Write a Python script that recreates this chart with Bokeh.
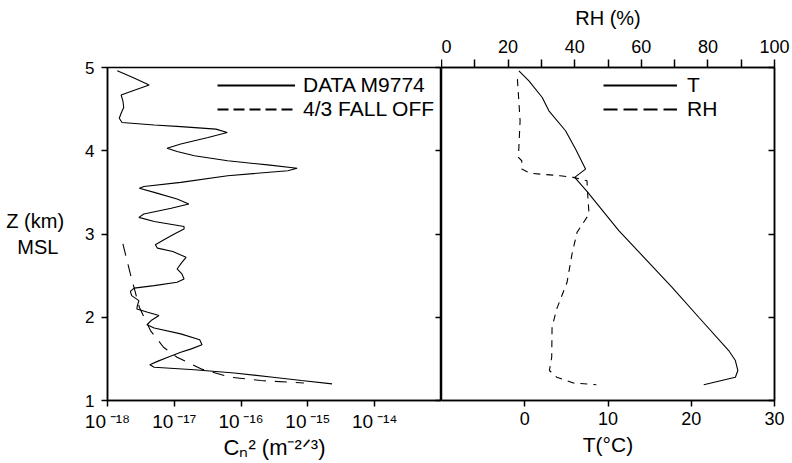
from bokeh.plotting import figure
from bokeh.models import (Range1d, LinearAxis, FixedTicker, CustomJSTickFormatter,
                          Legend, LegendItem)
from bokeh.layouts import row
from bokeh.embed import file_html
from bokeh.resources import INLINE

FONT = "Liberation Sans"
NAN = float("nan")

# ---------------- data ----------------
# Left panel: Cn^2 profile (m^-2/3) vs altitude (km MSL)
data_z = [4.96, 4.88, 4.79, 4.72, 4.67, 4.60, 4.52, 4.45, 4.39, 4.34, 4.31, 4.29, 4.26, 4.22,
          4.16, 4.08, 4.03, 3.99, 3.94, 3.88, 3.83, 3.79, 3.76, 3.70, 3.62, 3.57, 3.55, 3.50,
          3.42, 3.36, 3.31, 3.24, 3.20, 3.15, 3.09, 3.06, 3.00, 2.93, 2.87, 2.83, 2.79, 2.72,
          2.66, 2.58, 2.52, 2.46, 2.42, 2.38, 2.35, 2.31, 2.26, 2.20, 2.14, 2.10, 2.06, 2.02,
          1.96, 1.91, 1.87, 1.80, 1.73, 1.67, 1.62, 1.58, 1.52, 1.47, 1.43, 1.40, 1.37, 1.33,
          1.28, 1.24, 1.20]
data_cn2 = [1.4e-18, 2.4e-18, 4.2e-18, 2.4e-18, 1.6e-18, 1.7e-18, 1.75e-18, 1.6e-18, 1.5e-18,
            1.65e-18, 5.0e-18, 1.25e-17, 4.2e-17, 6.2e-17, 3.2e-17, 1.25e-17, 7.8e-18, 1.1e-17,
            2.0e-17, 6.3e-17, 2.5e-16, 6.9e-16, 5.0e-16, 6.3e-17, 1.25e-17, 3.5e-18, 3.0e-18,
            5.0e-18, 1.1e-17, 1.65e-17, 9.0e-18, 3.5e-18, 2.95e-18, 5.0e-18, 1.4e-17, 1.4e-17,
            1.0e-17, 7.0e-18, 5.2e-18, 5.6e-18, 9.5e-18, 1.5e-17, 1.3e-17, 1.1e-17, 1.3e-17,
            1.4e-17, 1.1e-17, 5.0e-18, 2.5e-18, 2.2e-18, 2.3e-18, 2.95e-18, 2.8e-18, 2.75e-18,
            4.0e-18, 5.9e-18, 4.5e-18, 3.9e-18, 5.0e-18, 1.25e-17, 2.4e-17, 2.6e-17, 1.8e-17,
            1.25e-17, 8.0e-18, 5.6e-18, 4.3e-18, 5.0e-18, 2.0e-17, 7.9e-17, 3.0e-16, 8.0e-16,
            2.3e-15]

falloff_z = [2.88, 2.52, 2.12, 1.84, 1.64, 1.52, 1.38, 1.28, 1.24, 1.21]
falloff_cn2 = [1.7e-18, 2.2e-18, 3.0e-18, 4.4e-18, 6.9e-18, 1.1e-17, 2.5e-17, 6.9e-17,
               1.95e-16, 8.7e-16]

# Right panel: temperature (deg C) and relative humidity (%) vs altitude
temp_z = [4.96, 4.84, 4.64, 4.48, 4.24, 4.02, 3.78, 3.68, 3.51, 3.04, 2.36, 2.00, 1.60,
          1.48, 1.36, 1.28, 1.19]
temp_c = [-0.7, 0.5, 2.1, 2.9, 4.9, 6.1, 7.3, 6.0, 7.5, 11.3, 17.7, 20.9, 24.5, 25.3, 25.6,
          25.3, 21.5]

rh_z = [4.86, 4.36, 3.92, 3.88, 3.78, 3.73, 3.70, 3.68, 3.64, 3.54, 3.24, 3.02, 2.76, 2.42,
        2.10, 1.88, 1.52, 1.36, 1.28, 1.21, 1.19]
rh_pct = [22.8, 23.6, 23.1, 24.1, 24.1, 26.6, 35.6, 39.6, 43.7, 43.8, 44.3, 40.7, 39.2, 37.7,
          34.6, 33.2, 33.1, 32.4, 34.6, 39.6, 46.5]

cn2_ticks = [1e-18, 1e-17, 1e-16, 1e-15, 1e-14]
z_ticks = [1, 2, 3, 4, 5]
t_ticks = [0, 10, 20, 30]
rh_ticks = [0, 10, 20, 30, 40, 50, 60, 70, 80, 90, 100]


def style_axis(ax, size="18px", standoff=5):
    ax.axis_line_color = "black"
    ax.axis_line_width = 1.5
    ax.major_tick_line_color = "black"
    ax.major_tick_line_width = 1.5
    ax.major_tick_out = 6
    ax.major_tick_in = 0
    ax.minor_tick_out = 0
    ax.minor_tick_in = 0
    ax.major_label_text_font = FONT
    ax.major_label_text_font_size = size
    ax.major_label_text_color = "black"
    ax.major_label_standoff = standoff
    ax.axis_label_text_font = FONT
    ax.axis_label_text_font_style = "normal"
    ax.axis_label_text_color = "black"
    ax.axis_label_text_font_size = "20px"


def inward_no_labels(ax):
    ax.axis_line_color = "black"
    ax.axis_line_width = 1.5
    ax.major_tick_line_color = "black"
    ax.major_tick_line_width = 1.5
    ax.major_tick_in = 6
    ax.major_tick_out = 0
    ax.minor_tick_in = 0
    ax.minor_tick_out = 0
    ax.major_label_standoff = 0
    ax.formatter = CustomJSTickFormatter(code="return '';")


def make_legend(items, loc, gw, standoff):
    return Legend(items=items, location=loc, glyph_width=gw, glyph_height=20, label_height=20,
                  label_standoff=standoff, spacing=-4, padding=0, margin=0,
                  border_line_color=None, background_fill_alpha=0, label_text_font=FONT,
                  label_text_font_size="21px", label_text_color="black")


# ---------------- left panel ----------------
p1 = figure(x_axis_type="log", x_range=Range1d(1e-18, 1e-13), y_range=Range1d(1, 5),
            frame_width=334, frame_height=333, min_border_left=107, min_border_right=0,
            min_border_top=67, min_border_bottom=60, output_backend="svg",
            toolbar_location=None)
p1.grid.visible = False
p1.outline_line_color = "black"
p1.outline_line_width = 1.5
p1.background_fill_color = "white"
p1.border_fill_color = "white"

xa = p1.xaxis[0]
style_axis(xa, "19px", 4)
xa.ticker = FixedTicker(ticks=cn2_ticks)
xa.formatter = CustomJSTickFormatter(code="""
const e = Math.round(Math.log10(tick));
const m = {"-": "\u207b", "0": "\u2070", "1": "\u00b9", "2": "\u00b2", "3": "\u00b3",
           "4": "\u2074", "5": "\u2075", "6": "\u2076", "7": "\u2077", "8": "\u2078", "9": "\u2079"};
let s = "";
for (const c of String(e)) { s += m[c]; }
return "10\u2009" + s;
""")
xa.axis_label = "C\u2099\u00b2 (m\u207b\u00b2\u141f\u00b3)"
xa.axis_label_text_font_size = "22px"
xa.axis_label_standoff = 0

ya = p1.yaxis[0]
style_axis(ya, "17px", 7)
ya.ticker = FixedTicker(ticks=z_ticks)
ya.axis_label = "Z (km)\nMSL\u00a0"
ya.axis_label_text_font_size = "20px"
if "axis_label_orientation" in ya.properties():
    ya.axis_label_orientation = "horizontal"
ya.axis_label_standoff = 18

ra = LinearAxis(ticker=FixedTicker(ticks=z_ticks))
inward_no_labels(ra)
p1.add_layout(ra, "right")

p1.line(data_cn2, data_z, line_color="black", line_width=1.1)
p1.line(falloff_cn2, falloff_z, line_color="black", line_width=1.1, line_dash="12 9")

# legend-only renderers (NaN data, never visible in the frame)
lr1 = p1.line(x=[NAN, NAN], y=[NAN, NAN], line_color="black", line_width=2.2)
lr2 = p1.line(x=[NAN, NAN], y=[NAN, NAN], line_color="black", line_width=2.2, line_dash="11 5")
p1.add_layout(make_legend([LegendItem(label="DATA M9774", renderers=[lr1]),
                           LegendItem(label="4/3 FALL OFF", renderers=[lr2])],
                          (110, 279), 78, 8))

# ---------------- right panel ----------------
p2 = figure(x_range=Range1d(-10, 30), y_range=Range1d(1, 5),
            frame_width=333, frame_height=333, min_border_left=0, min_border_right=17,
            min_border_top=67, min_border_bottom=60, y_axis_location="right",
            output_backend="svg", toolbar_location=None)
p2.grid.visible = False
p2.outline_line_color = "black"
p2.outline_line_width = 1.5
p2.background_fill_color = "white"
p2.border_fill_color = "white"
p2.extra_x_ranges = {"rh": Range1d(0, 100)}

ba = p2.xaxis[0]
style_axis(ba, "18px", 5)
ba.ticker = FixedTicker(ticks=t_ticks)
ba.axis_label = "T(\u00b0C)"
ba.axis_label_text_font_size = "21px"
ba.axis_label_standoff = 5

inward_no_labels(p2.yaxis[0])
p2.yaxis[0].ticker = FixedTicker(ticks=z_ticks)

ta = LinearAxis(x_range_name="rh", ticker=FixedTicker(ticks=rh_ticks), axis_label="RH (%)")
style_axis(ta, "18px", 7)
ta.major_tick_out = 8
ta.axis_label_standoff = 8
ta.formatter = CustomJSTickFormatter(code="return (tick % 20 == 0) ? String(tick) : '';")
p2.add_layout(ta, "above")

p2.line(temp_c, temp_z, line_color="black", line_width=1.1)
p2.line(rh_pct, rh_z, x_range_name="rh", line_color="black", line_width=1.1, line_dash="7 6")

lr3 = p2.line(x=[NAN, NAN], y=[NAN, NAN], line_color="black", line_width=2.2)
lr4 = p2.line(x=[NAN, NAN], y=[NAN, NAN], line_color="black", line_width=2.2, line_dash="14 6")
p2.add_layout(make_legend([LegendItem(label="T", renderers=[lr3]),
                           LegendItem(label="RH", renderers=[lr4])],
                          (162, 279), 74, 10))

layout = row(p1, p2)
open("out.html", "w").write(file_html(layout, INLINE))
